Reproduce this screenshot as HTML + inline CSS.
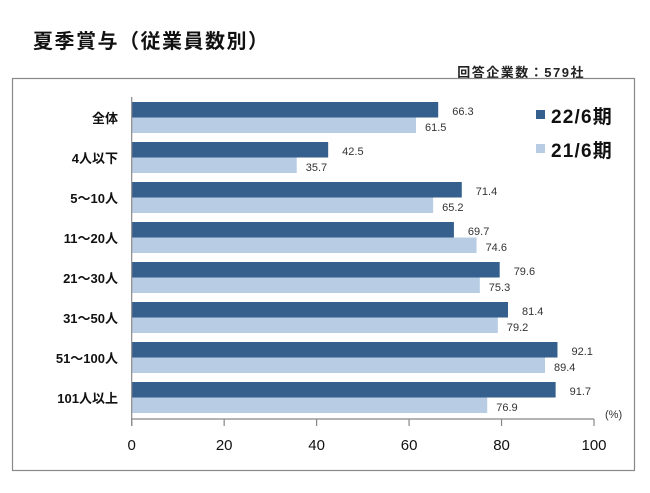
<!DOCTYPE html>
<html><head><meta charset="utf-8"><style>
body{margin:0;background:#fff;width:650px;height:488px;overflow:hidden;font-family:"Liberation Sans","Noto Sans CJK JP",sans-serif;}
</style></head><body>
<svg width="650" height="488" xmlns="http://www.w3.org/2000/svg">
<text x="33" y="48" font-size="20" font-weight="bold" letter-spacing="1.5" fill="#111" font-family="Liberation Sans,Noto Sans CJK JP,sans-serif">夏季賞与（従業員数別）</text>
<text x="585" y="77" text-anchor="end" font-size="13" font-weight="bold" letter-spacing="1.5" fill="#222" font-family="Liberation Sans,Noto Sans CJK JP,sans-serif">回答企業数：579社</text>
<rect x="12.5" y="78.5" width="622" height="392" fill="none" stroke="#888" stroke-width="1.2"/>
<g id="plot"></g>
<rect x="536" y="110" width="9" height="9" fill="#355f8d"/>
<text x="551" y="123" font-size="19" font-weight="bold" letter-spacing="1.2" fill="#111" font-family="Liberation Sans,Noto Sans CJK JP,sans-serif">22/6期</text>
<rect x="536" y="144" width="9" height="9" fill="#b8cce4"/>
<text x="551" y="157" font-size="19" font-weight="bold" letter-spacing="1.2" fill="#111" font-family="Liberation Sans,Noto Sans CJK JP,sans-serif">21/6期</text>
<text x="605" y="418" font-size="11" fill="#333">(%)</text>
</svg>
<script>
const categories=["全体","4人以下","5～10人","11～20人","21～30人","31～50人","51～100人","101人以上"];
const series22=[66.3,42.5,71.4,69.7,79.6,81.4,92.1,91.7];
const series21=[61.5,35.7,65.2,74.6,75.3,79.2,89.4,76.9];
const ticks=[0,20,40,60,80,100];
const NS="http://www.w3.org/2000/svg";
const plotG=document.getElementById('plot');
const X0=131.7,X1=594,PLOT_TOP=98,BAND=40;
const xs=v=>X0+(X1-X0)*v/100;
function mk(t,a){const e=document.createElementNS(NS,t);for(const k in a)e.setAttribute(k,a[k]);plotG.appendChild(e);return e;}
categories.forEach((c,i)=>{
  const y=PLOT_TOP+i*BAND;
  const b1=mk('rect',{x:X0,y:y+4,width:xs(series22[i])-X0,height:15.5,fill:'#355f8d'});
  
  
  const b2=mk('rect',{x:X0,y:y+19.5,width:xs(series21[i])-X0,height:15.5,fill:'#b8cce4'});
  
  
  const l1=mk('text',{x:xs(series22[i])+14,y:y+17,'font-size':11,fill:'#333'});
  l1.textContent=series22[i].toFixed(1);
  
  
  const l2=mk('text',{x:xs(series21[i])+9,y:y+33,'font-size':11,fill:'#333'});
  l2.textContent=series21[i].toFixed(1);
  
  
  const cl=mk('text',{x:118,y:y+25,'text-anchor':'end','font-size':13,'font-weight':'bold',fill:'#111','font-family':'Liberation Sans,Noto Sans CJK JP,sans-serif'});
  cl.textContent=c;
  
  
});
const ax=mk('line',{x1:X0,y1:97,x2:X0,y2:426,stroke:'#888','stroke-width':1.2});


const xa=mk('line',{x1:X0,y1:419,x2:X1,y2:419,stroke:'#888','stroke-width':1.2});


ticks.forEach(t=>{
  const tk=mk('line',{x1:xs(t),y1:419,x2:xs(t),y2:426,stroke:'#888','stroke-width':1.2});
  
  
  const tl=mk('text',{x:xs(t),y:450,'text-anchor':'middle','font-size':15,fill:'#111'});
  tl.textContent=t;
  
  
});
</script>
</body></html>
